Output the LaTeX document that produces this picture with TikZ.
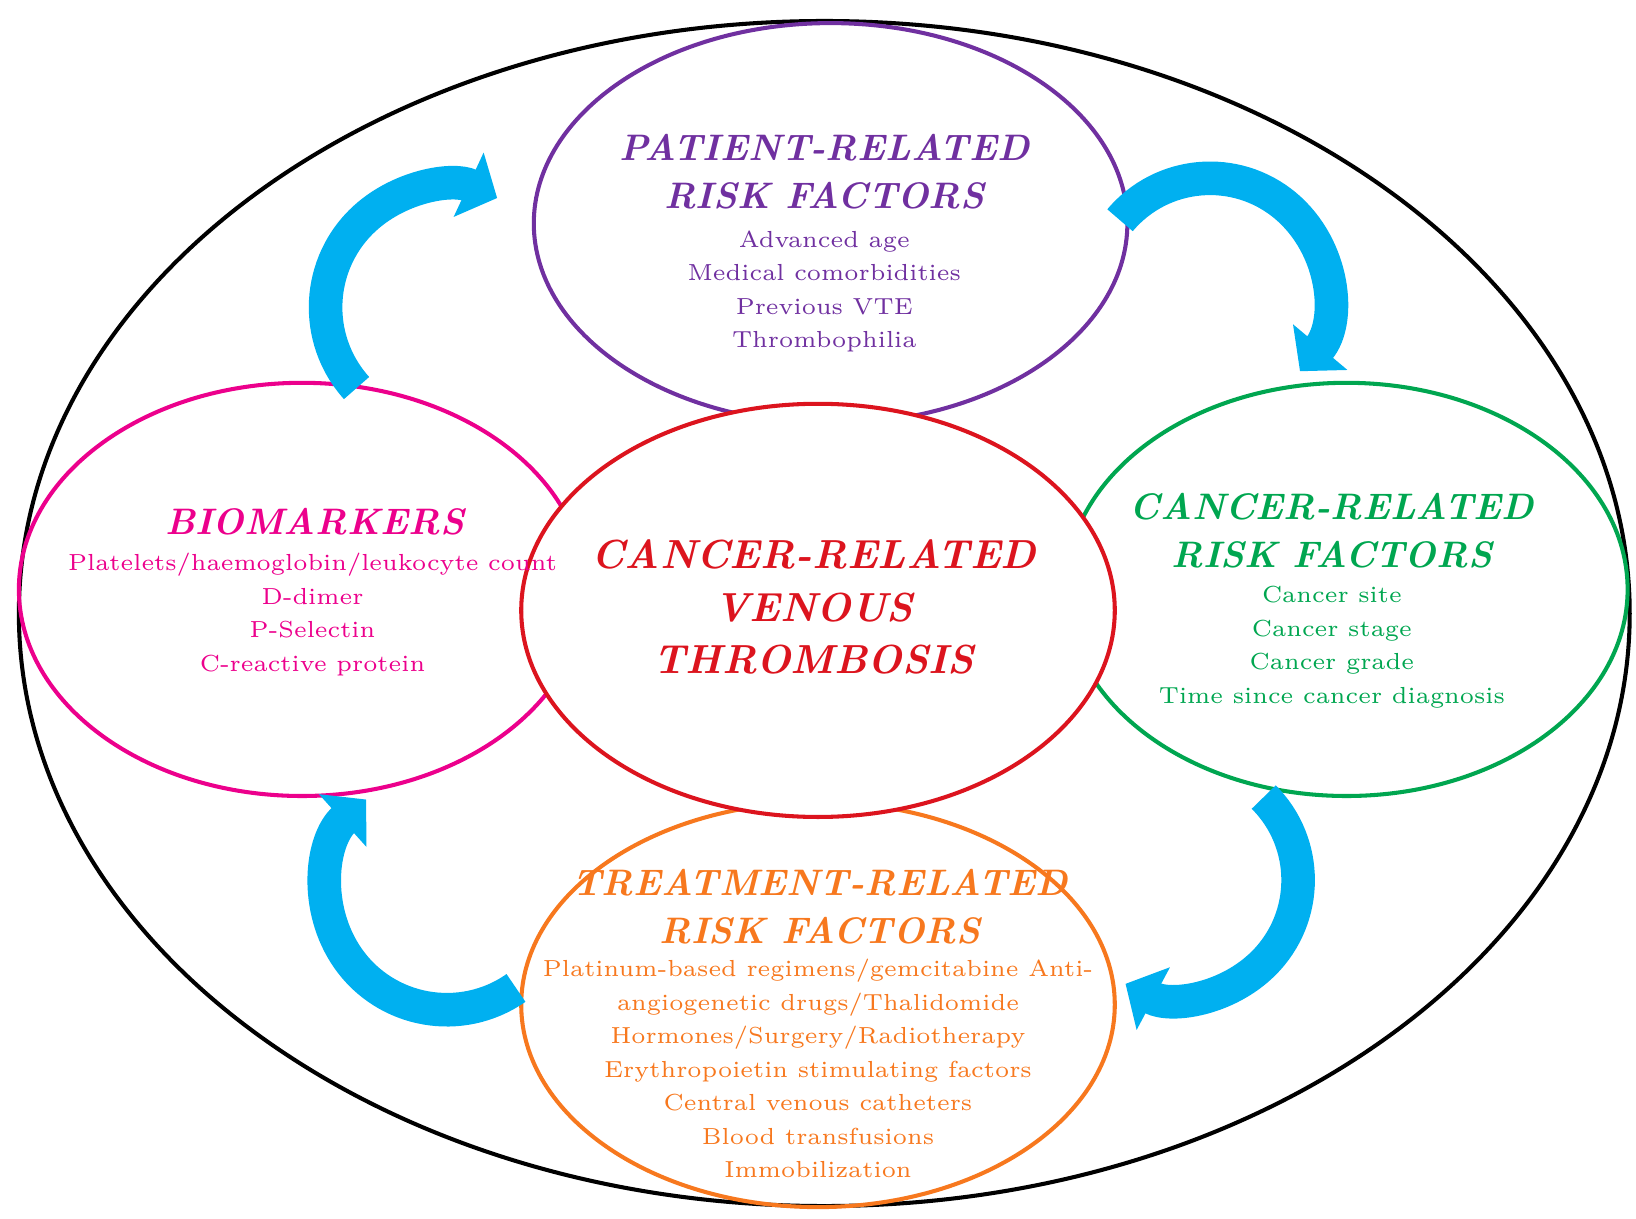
\documentclass[tikz,border=0pt]{standalone}
\usetikzlibrary{arrows.meta}
\definecolor{pur}{RGB}{112,48,160}
\definecolor{pnk}{RGB}{236,0,140}
\definecolor{rd}{RGB}{220,20,30}
\definecolor{grn}{RGB}{0,166,80}
\definecolor{org}{RGB}{247,120,30}
\definecolor{blu}{RGB}{0,176,240}
\begin{document}
\begin{tikzpicture}[x=0.01cm,y=-0.01cm,
 ttl/.style={font=\fontsize{10}{13}\selectfont\bfseries\itshape,align=center},
 bod/.style={font=\fontsize{6.3}{9.1}\selectfont,align=center},
 arr/.style={blu,line width=0.32cm,-{Triangle[length=0.3cm,width=0.66cm]}}]
\useasboundingbox (0,0) rectangle (1560,1162);
\draw[line width=1.1pt] (786,585) ellipse [x radius=768,y radius=565];
\draw[pur,line width=1.1pt] (792,213) ellipse [x radius=283,y radius=191];
\draw[pnk,line width=1.1pt] (288,562) ellipse [x radius=270,y radius=197];
\draw[grn,line width=1.1pt] (1284,562) ellipse [x radius=268,y radius=197];
\draw[org,line width=1.1pt] (780,958) ellipse [x radius=283,y radius=193];
\draw[rd,line width=1.1pt,fill=white] (780,582) ellipse [x radius=283,y radius=197];
% arrows
\draw[arr] (340,370) arc[start angle=222,end angle=65,x radius=115,y radius=-115];
\draw[arr] (1068,210) arc[start angle=140,end angle=-40,x radius=112,y radius=-112];
\draw[arr] (1205,760) arc[start angle=45,end angle=-118,x radius=112,y radius=-112];
\draw[arr] (492,942) arc[start angle=-55,end angle=-228,x radius=115,y radius=-115];
% texts
\node[ttl,pur] (t1) at (786,164) {PATIENT-RELATED\\RISK FACTORS};
\node[bod,pur] (b1) at (786,278) {Advanced age\\Medical comorbidities\\Previous VTE\\Thrombophilia};
\node[ttl,pnk] (t2) at (300,497) {BIOMARKERS};
\node[bod,pnk] (b2) at (298,586) {Platelets/haemoglobin/leukocyte count\\D-dimer\\P-Selectin\\C-reactive protein};
\node[ttl,rd,font=\fontsize{11}{14.2}\selectfont\bfseries\itshape] (t3) at (776,579) {CANCER-RELATED\\VENOUS\\THROMBOSIS};
\node[ttl,grn] (t4) at (1270,506) {CANCER-RELATED\\RISK FACTORS};
\node[bod,grn] (b4) at (1270,617) {Cancer site\\Cancer stage\\Cancer grade\\Time since cancer diagnosis};
\node[ttl,org] (t5) at (782,865) {TREATMENT-RELATED\\RISK FACTORS};
\node[bod,org] (b5) at (780,1019) {Platinum-based regimens/gemcitabine Anti-\\angiogenetic drugs/Thalidomide\\Hormones/Surgery/Radiotherapy\\Erythropoietin stimulating factors\\Central venous catheters\\Blood transfusions\\Immobilization};
\end{tikzpicture}
\end{document}
